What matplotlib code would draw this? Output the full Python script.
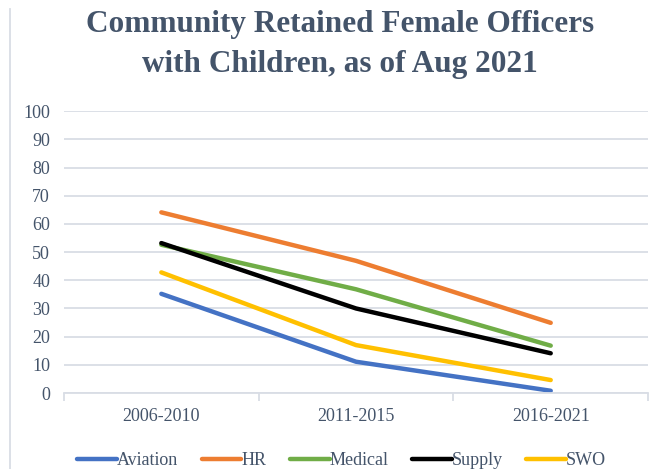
import matplotlib.pyplot as plt
from matplotlib.lines import Line2D

plt.rcParams['font.family'] = ['Liberation Serif', 'DejaVu Serif']

periods = ['2006-2010', '2011-2015', '2016-2021']
aviation = [35.2, 11.1, 0.8]
hr = [64.1, 46.9, 24.9]
medical = [52.6, 36.8, 16.8]
supply = [53.2, 30.0, 14.1]
swo = [42.8, 17.0, 4.6]

series = ['Aviation', 'HR', 'Medical', 'Supply', 'SWO']
colors = ['#4472C4', '#ED7D31', '#70AD47', '#000000', '#FFC000']
text_color = '#44546A'
grid_color = '#D9DDE5'

fig = plt.figure(figsize=(6.57, 4.69), dpi=100)
ax = fig.add_axes([0.0974, 0.162, 0.889, 0.601])

x = range(len(periods))
for name, vals, c in zip(series, [aviation, hr, medical, supply, swo], colors):
    ax.plot(x, vals, color=c, lw=3.2, solid_capstyle='round', label=name)

ax.set_ylim(0, 100)
ax.set_xlim(-0.5, 2.5)
ax.set_yticks(range(0, 101, 10))
ax.grid(axis='y', color=grid_color, lw=1.3)
ax.set_axisbelow(True)
for s in ['left', 'right', 'top']:
    ax.spines[s].set_visible(False)
ax.spines['bottom'].set_color(grid_color)
ax.spines['bottom'].set_linewidth(1.3)

# category labels centred, tick marks at band edges
ax.set_xticks([-0.5, 0.5, 1.5, 2.5])
ax.set_xticklabels([])
ax.set_xticks(list(x), minor=True)
ax.set_xticklabels(periods, minor=True)
ax.tick_params(axis='x', which='major', length=6, width=1.3, color=grid_color)
ax.tick_params(axis='x', which='minor', length=0, pad=11, labelsize=13, labelcolor=text_color)
ax.tick_params(axis='y', length=0, pad=10, labelsize=13, labelcolor=text_color)

fig.text(0.518, 0.978, 'Community Retained Female Officers\nwith Children, as of Aug 2021',
         ha='center', va='top', fontsize=22.5, fontweight='bold', color=text_color,
         linespacing=1.5)

handles = [Line2D([0], [0], color=c, lw=3.2, solid_capstyle='round') for c in colors]
leg = fig.legend(handles, series, loc='lower center', bbox_to_anchor=(0.52, -0.035), ncol=5,
                 frameon=False, fontsize=13, handlelength=2.2, handletextpad=0.0,
                 columnspacing=1.3)
for t in leg.get_texts():
    t.set_color(text_color)

# left edge of the chart frame
fig.add_artist(Line2D([0.0155, 0.0155], [0.0, 0.98], color=grid_color, lw=1.3))

fig.savefig('out.png', dpi=100)
